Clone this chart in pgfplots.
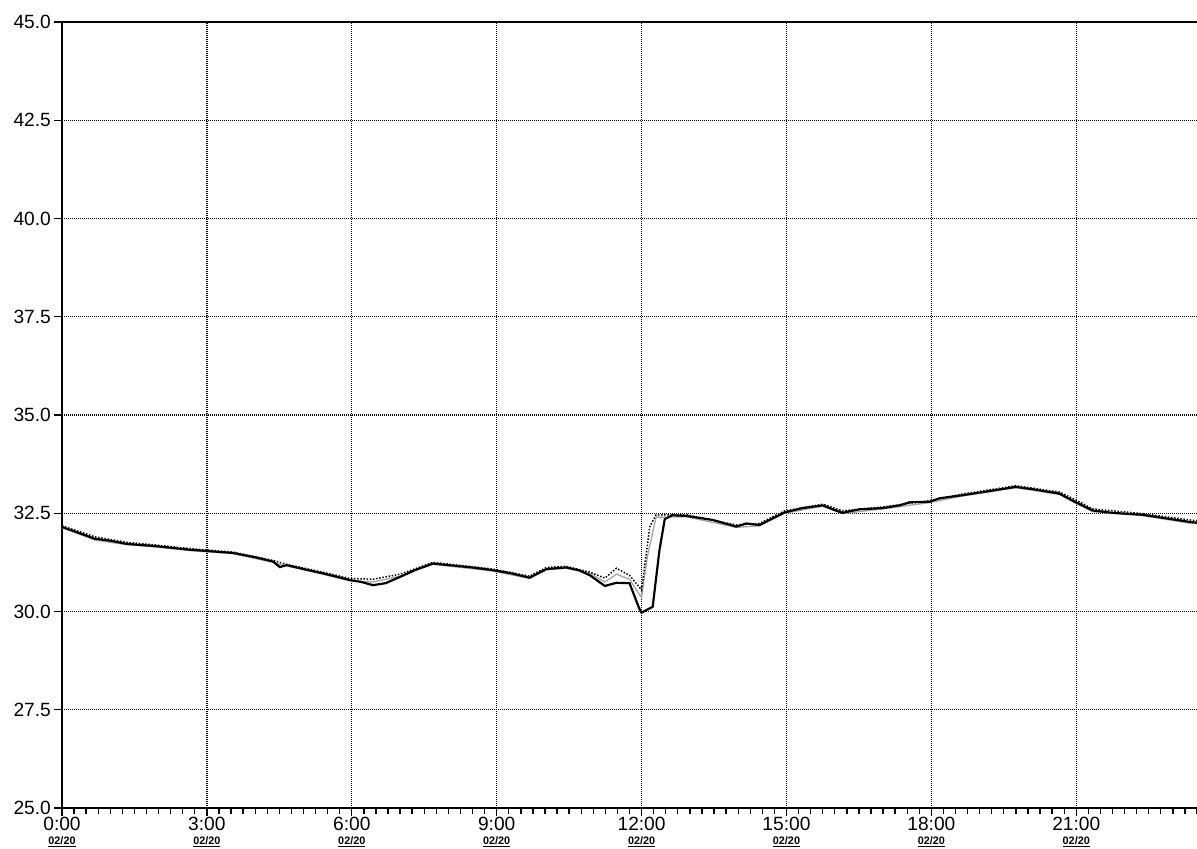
\documentclass[border=0pt]{standalone}
\usepackage{pgfplots}
\pgfplotsset{compat=1.18}
\usepackage{pgfplotstable}
\usepackage{fontspec}
\setmainfont{Liberation Sans}
\newcommand\dl{{\fontsize{6.5}{6.5}\selectfont\bfseries\underline{02/20}}}

\pgfplotstableread{
h v
0 32.15
0.3 32.02
0.68 31.85
1.0 31.80
1.34 31.72
1.96 31.66
2.65 31.57
3.0 31.54
3.54 31.49
4.0 31.38
4.37 31.27
4.51 31.13
4.65 31.18
5.0 31.08
5.4 30.97
5.96 30.80
6.2 30.75
6.44 30.67
6.7 30.72
7.0 30.88
7.3 31.05
7.68 31.22
8.0 31.18
8.5 31.12
8.92 31.05
9.3 30.97
9.68 30.86
10.03 31.08
10.44 31.12
10.7 31.05
10.93 30.92
11.24 30.65
11.48 30.73
11.75 30.72
11.96 30.05
12.0 29.97
12.23 30.12
12.37 31.56
12.48 32.35
12.64 32.45
12.93 32.43
13.47 32.33
13.96 32.16
14.17 32.24
14.44 32.20
14.96 32.52
15.33 32.63
15.75 32.70
16.0 32.58
16.16 32.51
16.51 32.60
16.99 32.63
17.34 32.70
17.55 32.78
17.96 32.79
18.17 32.88
18.65 32.96
19.13 33.05
19.75 33.17
20.1 33.11
20.65 33.00
20.99 32.78
21.34 32.57
21.75 32.51
22.37 32.46
22.86 32.37
23.34 32.28
23.5 32.26
}\seriesA

\pgfplotstableread{
h v
0 32.18
0.68 31.90
1.34 31.76
1.96 31.69
2.65 31.60
3.54 31.51
4.37 31.30
4.65 31.20
5.4 31.00
5.96 30.84
6.44 30.82
7.0 30.95
7.68 31.25
8.92 31.08
9.68 30.90
10.03 31.12
10.44 31.15
10.93 31.00
11.24 30.85
11.48 31.10
11.75 30.92
12.0 30.55
12.17 32.16
12.3 32.46
12.93 32.46
13.96 32.20
14.44 32.24
14.96 32.56
15.75 32.73
16.16 32.56
16.99 32.66
17.96 32.82
18.65 32.99
19.75 33.20
20.65 33.04
20.99 32.84
21.34 32.61
22.37 32.49
23.34 32.33
23.5 32.31
}\seriesB

\pgfplotstableread{
h v
0 32.13
0.68 31.82
1.34 31.70
1.96 31.64
2.65 31.55
3.54 31.47
4.37 31.25
4.65 31.16
5.4 30.95
5.96 30.78
6.44 30.75
7.0 30.90
7.68 31.20
8.92 31.03
9.68 30.84
10.03 31.06
10.44 31.10
10.93 30.97
11.24 30.75
11.48 30.95
11.75 30.82
12.0 30.35
12.12 31.40
12.3 32.40
12.93 32.41
13.96 32.14
14.44 32.18
14.96 32.50
15.75 32.68
16.16 32.49
16.99 32.61
17.96 32.77
18.65 32.94
19.75 33.15
20.65 32.98
20.99 32.75
21.34 32.54
22.37 32.44
23.34 32.25
23.5 32.23
}\seriesC

\begin{document}
\begin{tikzpicture}
\begin{axis}[name=ax, scale only axis, width=681pt, height=471.6pt,
  xmin=0, xmax=23.5, ymin=25, ymax=45,
  axis x line*=bottom, axis y line*=left,
  xtick={0,3,6,9,12,15,18,21},
  xticklabels={{0:00\\[-2.5pt]\dl},{3:00\\[-2.5pt]\dl},{6:00\\[-2.5pt]\dl},{9:00\\[-2.5pt]\dl},{12:00\\[-2.5pt]\dl},{15:00\\[-2.5pt]\dl},{18:00\\[-2.5pt]\dl},{21:00\\[-2.5pt]\dl}},
  xticklabel style={align=center, font=\fontsize{11.5}{10.5}\selectfont, inner sep=0.5pt},
  minor xtick={0,0.25,...,23.5},
  ytick={25,27.5,30,32.5,35,37.5,40,42.5,45},
  yticklabel style={/pgf/number format/.cd, fixed, fixed zerofill, precision=1, /tikz/.cd, font=\fontsize{11.5}{10}\selectfont, inner sep=1.5pt},
  /pgf/number format/assume math mode=true,
  grid=major, major grid style={black, dash pattern=on 0.6pt off 0.6pt, line width=0.75pt},
  tick align=outside, major tick length=5pt, minor tick length=3.5pt,
  every tick/.style={black, line width=0.8pt},
  axis line style={black, line width=0.9pt},
]
\addplot[gray!70, line width=0.8pt] table[x=h,y=v] {\seriesC};
\addplot[black, densely dotted, line width=0.9pt] table[x=h,y=v] {\seriesB};
\addplot[black, line width=1.3pt] table[x=h,y=v] {\seriesA};
\draw[black, line width=0.9pt] (rel axis cs:0,1) -- (rel axis cs:1,1);
\end{axis}
\pgfresetboundingbox
\path[use as bounding box] ([xshift=-37.2pt,yshift=-24.6pt]ax.south west) rectangle ([yshift=13.2pt]ax.north east);
\end{tikzpicture}
\end{document}
